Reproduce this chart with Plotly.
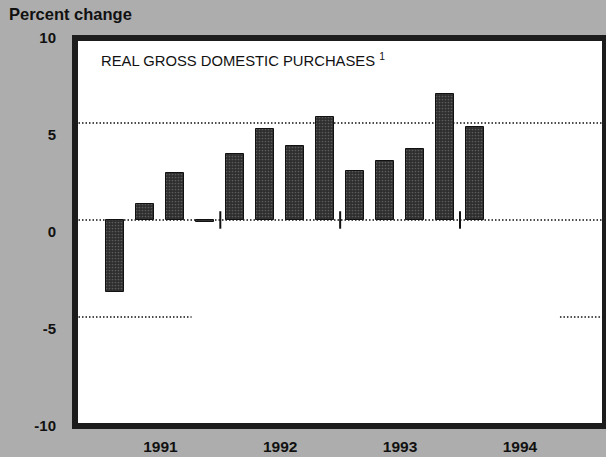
import plotly.graph_objects as go

# quarterly percent change, 1991 Q1 - 1994 Q1
quarters = ["1991 Q1", "1991 Q2", "1991 Q3", "1991 Q4",
            "1992 Q1", "1992 Q2", "1992 Q3", "1992 Q4",
            "1993 Q1", "1993 Q2", "1993 Q3", "1993 Q4",
            "1994 Q1"]
values = [-3.7, 0.8, 2.4, -0.1, 3.4, 4.7, 3.8, 5.3, 2.5, 3.05, 3.65, 6.5, 4.8]
years = ["1991", "1992", "1993", "1994"]
y_ticks = [10, 5, 0, -5, -10]
y_ticktext = ["10", "5", "0", "-5", "-10"]

FONT = "Liberation Sans, Arial, sans-serif"
xs = list(range(len(quarters)))
year_centers = [4 * i + 1.5 for i in range(len(years))]
year_breaks = [4 * i + 3.5 for i in range(len(years) - 1)]

fig = go.Figure()
# empty trace so the labelled left axis gets drawn
fig.add_trace(go.Scatter(x=[], y=[], yaxis="y", showlegend=False, hoverinfo="skip"))
fig.add_trace(go.Bar(
    x=xs, y=values, yaxis="y2", width=0.6,
    marker=dict(color="#2e2e2e", line=dict(color="#111111", width=1),
                pattern=dict(shape=".", fgcolor="#8a8a8a", bgcolor="#2e2e2e",
                             size=3, solidity=0.25)),
    hovertext=quarters, showlegend=False,
))

# dotted reference lines (the -5 line is only drawn at the edges)
shapes = []
for y0, segs in [(5, [(0, 1)]), (0, [(0, 1)]), (-5, [(0, 0.22), (0.915, 1)])]:
    for a, b in segs:
        shapes.append(dict(type="line", xref="paper", yref="y2", x0=a, x1=b,
                           y0=y0, y1=y0, layer="below",
                           line=dict(color="#111111", width=1.4, dash="1.5px,2px")))
# small year separators on the zero line
for xb in year_breaks:
    shapes.append(dict(type="line", xref="x", yref="y2", x0=xb, x1=xb,
                       y0=-0.45, y1=0.45, line=dict(color="#111111", width=2)))
# heavy frame
shapes.append(dict(type="rect", xref="paper", yref="paper", x0=0, x1=1, y0=0, y1=1,
                   line=dict(color="#1c1c1c", width=6)))

fig.update_layout(
    width=606, height=457,
    margin=dict(l=75, r=1, t=38, b=31),
    paper_bgcolor="#adadad", plot_bgcolor="white",
    font=dict(family=FONT, color="#111111"),
    bargap=0,
    xaxis=dict(range=[-1.35, 16.34], tickvals=year_centers, ticktext=years,
               showgrid=False, zeroline=False, showline=False, ticks="",
               tickfont=dict(size=15.5, family=FONT, weight="bold"),
               ticklabelstandoff=9),
    yaxis=dict(range=[-10, 10], tickvals=y_ticks, ticktext=y_ticktext,
               showgrid=False, zeroline=False, showline=False, ticks="",
               tickfont=dict(size=15, family=FONT, weight="bold"),
               ticklabelstandoff=18),
    yaxis2=dict(range=[-10.62, 9.38], overlaying="y", visible=False),
    shapes=shapes,
    annotations=[
        dict(text="Percent change", xref="paper", yref="paper",
             x=-0.128, y=1.062, xanchor="left", yanchor="middle", showarrow=False,
             font=dict(size=16.5, family=FONT, weight="bold")),
        dict(text="REAL GROSS DOMESTIC PURCHASES <sup>1</sup>", xref="paper", yref="paper",
             x=0.045, y=0.943, xanchor="left", yanchor="middle", showarrow=False,
             font=dict(size=14.8, family=FONT)),
    ],
)

fig.write_html("out.html", config={"displayModeBar": False},
               post_script="document.body.style.margin='0';")
